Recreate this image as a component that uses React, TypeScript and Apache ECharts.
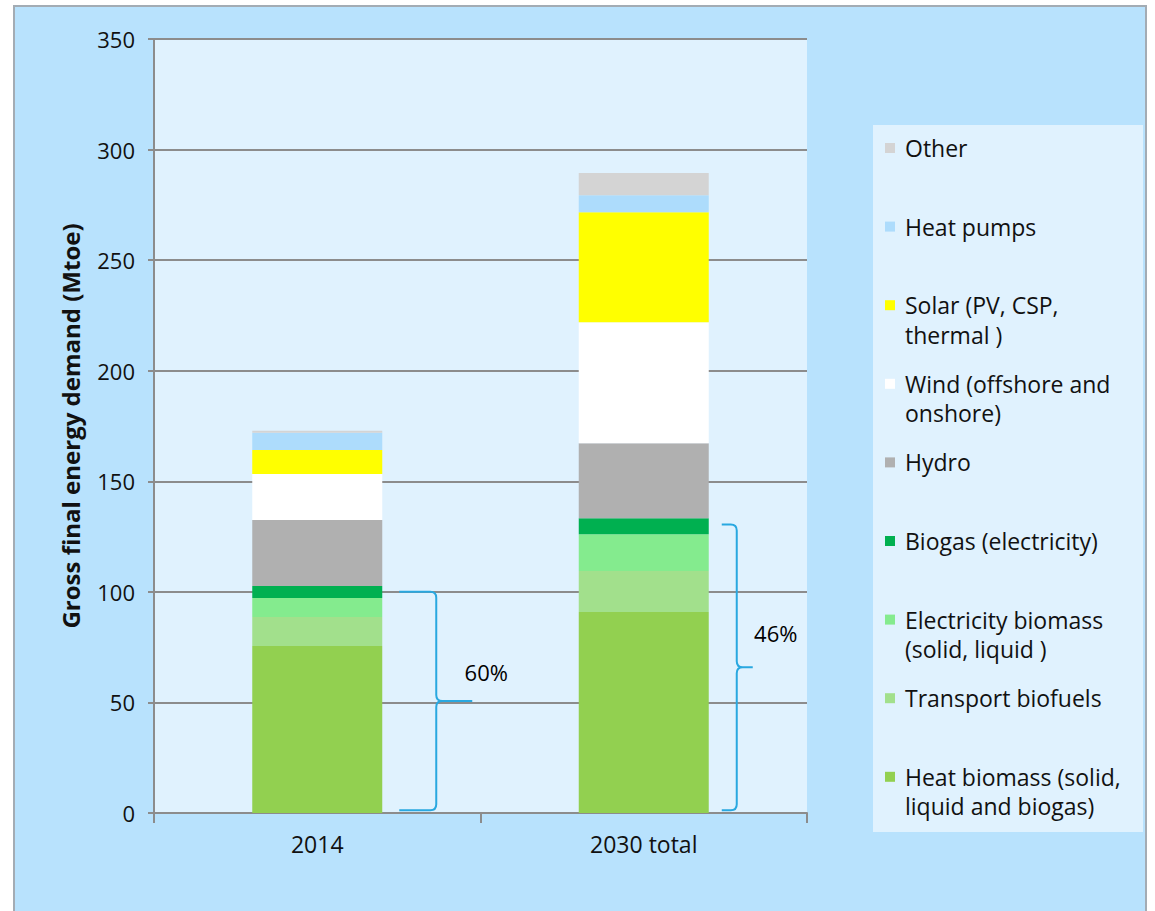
import React, { useEffect, useRef } from "react";
import * as echarts from "echarts";

const categories = ["2014", "2030 total"];

const seriesNames = [
  "Heat biomass (solid, liquid and biogas)",
  "Transport biofuels",
  "Electricity biomass (solid, liquid )",
  "Biogas (electricity)",
  "Hydro",
  "Wind (offshore and onshore)",
  "Solar (PV, CSP, thermal)",
  "Heat pumps",
  "Other",
];
const legendLabels = [
  ["Heat biomass (solid,", "liquid and biogas)"],
  ["Transport biofuels"],
  ["Electricity biomass", "(solid, liquid )"],
  ["Biogas (electricity)"],
  ["Hydro"],
  ["Wind (offshore and", "onshore)"],
  ["Solar (PV, CSP,", "thermal )"],
  ["Heat pumps"],
  ["Other"],
];
const seriesColors = [
  "#92d050",
  "#a2e08c",
  "#84eb8e",
  "#00b050",
  "#b0b0b0",
  "#ffffff",
  "#ffff00",
  "#addcfc",
  "#d4d4d4",
];

const heatBiomass = [75.5, 90.9];
const transportBiofuels = [13.1, 18.5];
const electricityBiomass = [8.6, 16.7];
const biogasElectricity = [5.4, 7.2];
const hydro = [29.9, 33.9];
const wind = [20.8, 54.7];
const solar = [10.9, 49.8];
const heatPumps = [7.7, 7.7];
const other = [0.9, 10.0];

const seriesValues = [
  heatBiomass,
  transportBiofuels,
  electricityBiomass,
  biogasElectricity,
  hydro,
  wind,
  solar,
  heatPumps,
  other,
];

const yTicks = [0, 50, 100, 150, 200, 250, 300, 350];

// Braces: category index, low value, high value, label, label value position
const braceCategory = [0, 1];
const braceLow = [1.3, 1.3];
const braceHigh = [100, 130.5];
const braceLabel = ["60%", "46%"];
const braceLabelValue = [63.8, 81.4];

// brace shape styling (pixel offsets from bar centre)
const braceShape = [
  { start: 82, stem: 119, tip: 155, label: 169 },
  { start: 78, stem: 93, tip: 109, label: 132 },
];

const FONT = "'Open Sans', 'DejaVu Sans', sans-serif";

export default function App() {
  const ref = useRef<HTMLDivElement>(null);

  useEffect(() => {
    if (!ref.current) return;
    const chart = echarts.init(ref.current, undefined, { renderer: "svg" });

    const barSeries = seriesNames.map((name, i) => ({
      name,
      type: "bar",
      stack: "total",
      barWidth: 130,
      data: seriesValues[i],
      itemStyle: { color: seriesColors[i] },
      emphasis: { disabled: true },
    }));

    const braceData = braceCategory.map((c, i) => [
      c,
      braceLow[i],
      braceHigh[i],
      braceLabelValue[i],
      i,
    ]);

    const braceSeries = {
      type: "custom",
      name: "braces",
      data: braceData,
      encode: { x: 0, y: [1, 2] },
      z: 5,
      silent: true,
      renderItem: (params: any, api: any) => {
        const cat = api.value(0);
        const idx = api.value(4);
        const shape = braceShape[idx];
        const cx = api.coord([cat, 0])[0];
        const yB = api.coord([cat, api.value(1)])[1];
        const yT = api.coord([cat, api.value(2)])[1];
        const yM = (yB + yT) / 2;
        const yL = api.coord([cat, api.value(3)])[1];
        const xs = cx + shape.start;
        const xv = cx + shape.stem;
        const xt = cx + shape.tip;
        const r = 6;
        const d =
          `M ${xs} ${yT} L ${xv - r} ${yT} Q ${xv} ${yT} ${xv} ${yT + r} ` +
          `L ${xv} ${yM - r} Q ${xv} ${yM} ${xv + r} ${yM} L ${xt} ${yM} ` +
          `M ${xv + r} ${yM} Q ${xv} ${yM} ${xv} ${yM + r} ` +
          `L ${xv} ${yB - r} Q ${xv} ${yB} ${xv - r} ${yB} L ${xs} ${yB}`;
        return {
          type: "group",
          children: [
            {
              type: "path",
              shape: { pathData: d },
              style: { fill: "none", stroke: "#29a8e0", lineWidth: 2 },
            },
            {
              type: "text",
              x: cx + shape.label,
              y: yL,
              style: {
                text: braceLabel[idx],
                fill: "#000",
                font: `22px ${FONT}`,
                align: "center",
                verticalAlign: "middle",
              },
            },
          ],
        };
      },
    };

    // legend drawn as graphic (top to bottom = reverse of stack order)
    const legendChildren: any[] = [];
    const legendTop = 148;
    const legendStep = 78.6;
    const lineGap = 29.5;
    const order = seriesNames.map((_, i) => seriesNames.length - 1 - i);
    order.forEach((si, k) => {
      const yc = legendTop + k * legendStep;
      legendChildren.push({
        type: "rect",
        shape: { x: 885, y: yc - 5, width: 10, height: 10 },
        style: { fill: seriesColors[si] },
      });
      legendLabels[si].forEach((line, li) => {
        legendChildren.push({
          type: "text",
          x: 905,
          y: yc + li * lineGap,
          style: {
            text: line,
            fill: "#111",
            font: `23px ${FONT}`,
            align: "left",
            verticalAlign: "middle",
          },
        });
      });
    });

    const option: any = {
      animation: false,
      backgroundColor: "transparent",
      textStyle: { fontFamily: FONT },
      grid: {
        left: 154,
        top: 39,
        right: 348,
        bottom: 98,
        show: true,
        backgroundColor: "#e0f2fe",
        borderWidth: 0,
      },
      legend: { show: false },
      xAxis: {
        type: "category",
        data: categories,
        axisLine: { lineStyle: { color: "#8c8c8c", width: 2 } },
        axisTick: { show: true, length: 10, lineStyle: { color: "#8c8c8c", width: 2 } },
        axisLabel: { color: "#111", fontSize: 23, margin: 19, fontFamily: FONT },
      },
      yAxis: {
        type: "value",
        min: 0,
        max: 350,
        interval: 50,
        name: "Gross final energy demand (Mtoe)",
        nameLocation: "middle",
        nameGap: 72,
        nameTextStyle: { color: "#111", fontSize: 24, fontWeight: "bold", fontFamily: FONT },
        axisLine: { show: true, lineStyle: { color: "#8c8c8c", width: 2 } },
        axisTick: { show: true, length: 6, lineStyle: { color: "#8c8c8c", width: 2 } },
        axisLabel: {
          color: "#111",
          fontSize: 22,
          margin: 19,
          fontFamily: FONT,
          formatter: (v: number) => (yTicks.includes(v) ? String(v) : ""),
        },
        splitLine: { show: true, lineStyle: { color: "#8c8c8c", width: 2 } },
      },
      graphic: [
        {
          type: "rect",
          shape: { x: 873, y: 125, width: 270, height: 707 },
          style: { fill: "#e0f2fe" },
          z: 0,
        },
        { type: "group", children: legendChildren, z: 1 },
      ],
      series: [...barSeries, braceSeries],
    };

    chart.setOption(option);
    return () => chart.dispose();
  }, []);

  return (
    <div style={{ position: "absolute", left: 0, top: 0, width: 1155, height: 911, background: "#fff" }}>
      <div
        style={{
          position: "absolute",
          left: 13,
          top: 5,
          width: 1134,
          height: 906,
          boxSizing: "border-box",
          background: "#b8e2fd",
          borderLeft: "2px solid #a3acb4",
          borderTop: "2px solid #a3acb4",
          borderRight: "2px solid #a3acb4",
        }}
      />
      <div ref={ref} style={{ position: "absolute", left: 0, top: 0, width: 1155, height: 911 }} />
    </div>
  );
}
